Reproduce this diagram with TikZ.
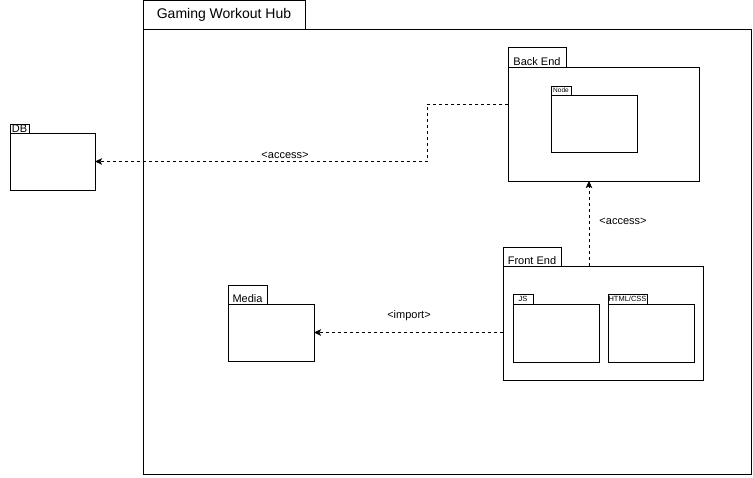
\documentclass[tikz,border=0pt]{standalone}
\usepackage{fontspec}
\setmainfont{Liberation Sans}
\usetikzlibrary{arrows.meta}
\begin{document}
\begin{tikzpicture}[x=1pt,y=-1pt,
  pkg/.style={draw=black,line width=0.9pt,fill=white,rectangle,inner sep=0pt,outer sep=0pt,anchor=north west},
  pkgtab/.style={draw=black,line width=0.9pt,fill=white,rectangle,inner sep=0pt,outer sep=0pt,anchor=south west},
  lbl/.style={inner sep=0pt,font=\fontsize{11}{12}\selectfont},
  tiny/.style={inner sep=0pt,font=\fontsize{7.5}{8}\selectfont},
  dep/.style={draw=black,line width=0.9pt,dash pattern=on 3pt off 3pt,-{Stealth[length=7pt,width=6.5pt,inset=1.5pt]}}]
\useasboundingbox (0,0) rectangle (753,478);
% main frame
\node[pkg,minimum width=608,minimum height=445] (hub) at (143,29) {};
\node[pkgtab,minimum width=162,minimum height=29] (hubtab) at (hub.north west) {};
\node[inner sep=0pt,font=\fontsize{14}{16}\selectfont] (hubtxt) at (hubtab.center) {Gaming Workout Hub};
% DB
\node[pkg,minimum width=85,minimum height=57] (db) at (10,133) {};
\node[pkgtab,minimum width=19,minimum height=9] (dbtab) at (db.north west) {};
\node[inner sep=0pt,font=\fontsize{11}{11}\selectfont] (dbtxt) at ([yshift=-0.3]dbtab.center) {DB};
% Back End
\node[pkg,minimum width=191,minimum height=114] (be) at (508,67) {};
\node[pkgtab,minimum width=58,minimum height=20] (betab) at (be.north west) {};
\node[lbl,anchor=base] (betxt) at ([yshift=1.5]betab.south) {Back End};
% Node
\node[pkg,minimum width=86,minimum height=57] (nd) at (551,95) {};
\node[pkgtab,minimum width=20,minimum height=9] (ndtab) at (nd.north west) {};
\node[inner sep=0pt,font=\fontsize{6.5}{7}\selectfont] (ndtxt) at (ndtab.center) {Node};
% Front End
\node[pkg,minimum width=200,minimum height=114] (fe) at (503,266) {};
\node[pkgtab,minimum width=58,minimum height=19] (fetab) at (fe.north west) {};
\node[lbl,anchor=base] (fetxt) at ([yshift=1.5]fetab.south) {Front End};
% JS
\node[pkg,minimum width=86,minimum height=58] (js) at (513,304) {};
\node[pkgtab,minimum width=20,minimum height=10] (jstab) at (js.north west) {};
\node[tiny] (jstxt) at (jstab.center) {JS};
% HTML/CSS
\node[pkg,minimum width=86,minimum height=58] (hc) at (608,304) {};
\node[pkgtab,minimum width=39,minimum height=10] (hctab) at (hc.north west) {};
\node[tiny] (hctxt) at (hctab.center) {HTML/CSS};
% Media
\node[pkg,minimum width=86,minimum height=57] (media) at (228,304) {};
\node[pkgtab,minimum width=39,minimum height=19] (mediatab) at (media.north west) {};
\node[lbl,anchor=base] (mediatxt) at ([yshift=1.5]mediatab.south) {Media};
% connectors
\coordinate (bend) at (427,130);
\draw[dep] ([yshift=20]be.west) -| (bend) |- (db.east);
\node[lbl] (acc1) at (285,155.5) {<access>};
\coordinate (vx) at (589,0);
\draw[dep] (vx |- fe.north) -- (vx |- be.south);
\node[lbl] (acc2) at (623,221) {<access>};
\draw[dep] (fe.west |- media.east) -- (media.east);
\node[lbl] (imp) at (409,316) {<import>};
\end{tikzpicture}
\end{document}
